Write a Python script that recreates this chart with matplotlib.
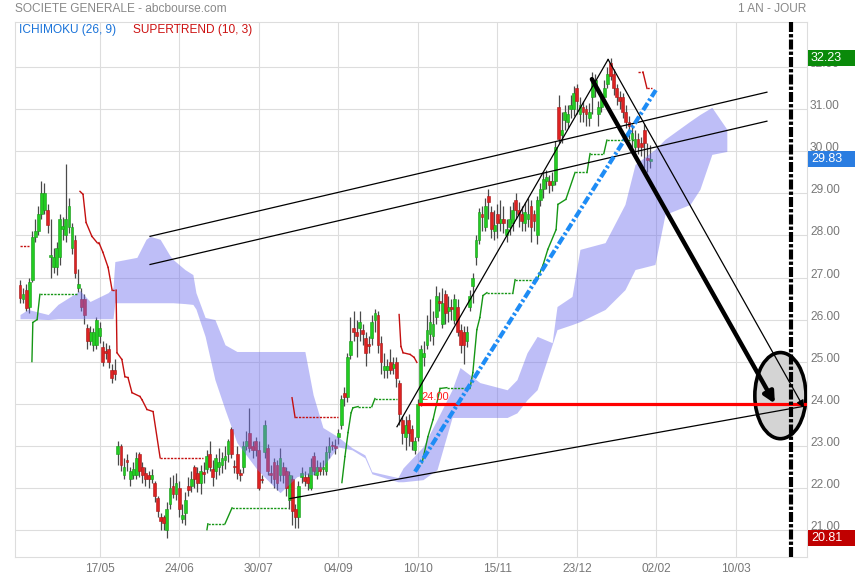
import matplotlib
matplotlib.use("Agg")
import matplotlib.pyplot as plt
from matplotlib.patches import Ellipse, Rectangle
import matplotlib.transforms as mtransforms
import numpy as np

plt.rcParams['font.family'] = ['Liberation Sans', 'DejaVu Sans']

# ---------------- data ----------------
title_left = "SOCIETE GENERALE - abcbourse.com"
title_right = "1 AN - JOUR"
legend_ichimoku = "ICHIMOKU (26, 9)"
legend_supertrend = "SUPERTREND (10, 3)"

tick_pos = [26, 52, 78, 104, 130, 156, 182, 208, 234]
tick_labels = ["17/05", "24/06", "30/07", "04/09", "10/10", "15/11", "23/12", "02/02", "10/03"]
price_ticks = [21, 22, 23, 24, 25, 26, 27, 28, 29, 30, 31, 32]

opens = [26.82, 26.50, 26.70, 26.30, 26.94, 27.97, 28.10, 28.50, 28.60, 28.60,
         27.50, 27.25, 27.25, 27.50, 28.15, 28.00, 28.20, 27.70, 27.90, 26.75,
         26.50, 26.50, 25.80, 25.50, 25.40, 25.40, 25.60, 25.35, 25.25, 25.30,
         24.80, 24.80, 22.80, 23.00, 22.30, 22.65, 22.20, 22.30, 22.30, 22.80,
         22.50, 22.35, 22.30, 22.20, 22.10, 21.75, 21.30, 21.30, 21.00, 21.60,
         22.05, 21.85, 22.00, 21.25, 21.40, 22.05, 22.05, 22.50, 22.35, 22.10,
         22.35, 22.45, 22.80, 22.45, 22.40, 22.50, 22.55, 22.65, 22.80, 23.40,
         22.50, 22.80, 22.35, 22.50, 23.00, 23.30, 23.00, 23.10, 22.90, 22.20,
         22.85, 22.95, 22.35, 22.60, 22.55, 22.30, 22.50, 22.40, 21.70, 22.20,
         21.50, 21.30, 22.25, 22.25, 22.25, 22.00, 22.75, 22.30, 22.50, 22.45,
         22.40, 22.85, 23.00, 23.00, 23.20, 23.50, 24.25, 24.15, 25.15, 25.80,
         25.70, 25.80, 25.75, 25.55, 25.40, 25.55, 26.00, 26.10, 25.45, 24.80,
         24.80, 25.00, 24.85, 25.00, 24.50, 23.60, 23.20, 23.60, 23.40, 22.90,
         23.20, 24.00, 25.10, 25.40, 25.65, 25.60, 26.05, 26.45, 25.90, 26.60,
         26.20, 26.30, 26.00, 26.30, 25.75, 25.70, 25.50, 26.30, 26.80, 27.50,
         27.90, 28.50, 28.20, 28.95, 28.55, 28.10, 28.50, 28.30, 28.40, 28.00,
         28.20, 28.30, 28.85, 28.60, 28.50, 28.30, 28.40, 28.70, 28.50, 28.00,
         28.85, 29.10, 29.30, 29.30, 29.20, 29.30, 31.05, 30.40, 30.75, 30.70,
         31.00, 31.00, 31.50, 30.90, 31.05, 31.00, 30.80, 31.30, 31.50, 30.90,
         31.05, 31.30, 31.60, 32.10, 31.85, 31.50, 31.30, 31.30, 30.95, 30.70,
         30.30, 30.10, 30.30, 30.20, 30.50, 29.85, 29.78]
closes = [26.51, 26.60, 26.27, 26.90, 27.97, 28.10, 28.50, 29.00, 29.00, 28.25,
          27.52, 27.50, 27.70, 28.40, 28.22, 28.40, 28.70, 28.20, 27.10, 26.85,
          26.30, 26.10, 25.50, 25.70, 25.70, 26.00, 25.80, 25.00, 25.20, 25.00,
          24.60, 24.70, 23.00, 22.55, 22.50, 22.60, 22.40, 22.45, 22.70, 22.40,
          22.30, 22.20, 22.20, 22.30, 21.80, 21.45, 21.20, 21.15, 21.50, 22.00,
          21.85, 22.10, 21.50, 21.35, 21.70, 21.95, 22.20, 22.20, 22.10, 22.40,
          22.33, 22.75, 22.50, 22.25, 22.70, 22.60, 22.70, 22.75, 23.10, 22.80,
          22.48, 22.35, 22.30, 23.00, 23.10, 22.95, 22.90, 22.90, 22.00, 22.18,
          23.50, 22.40, 22.30, 22.20, 22.10, 22.70, 22.30, 22.00, 22.30, 21.45,
          21.30, 22.05, 22.35, 22.15, 22.10, 22.50, 22.40, 22.50, 22.40, 22.50,
          22.85, 23.00, 22.98, 22.95, 23.30, 24.10, 24.15, 25.10, 25.50, 25.70,
          25.60, 25.95, 25.65, 25.20, 25.38, 25.95, 26.15, 25.40, 25.00, 24.90,
          24.90, 24.80, 24.95, 24.60, 23.75, 23.30, 23.50, 23.30, 23.10, 23.10,
          24.00, 25.30, 25.20, 25.75, 25.95, 25.90, 26.55, 26.40, 26.40, 26.15,
          26.30, 26.25, 26.50, 25.70, 25.40, 25.40, 25.70, 26.55, 27.00, 27.90,
          28.55, 28.45, 28.70, 28.80, 28.15, 28.25, 28.30, 28.40, 28.30, 28.15,
          28.40, 28.60, 28.60, 28.50, 28.35, 28.55, 28.50, 28.20, 28.35, 28.85,
          29.10, 29.35, 29.40, 29.20, 29.30, 30.10, 30.30, 30.50, 30.95, 30.90,
          31.10, 31.40, 31.20, 31.10, 30.95, 30.90, 30.95, 31.65, 31.70, 31.05,
          31.30, 31.50, 31.85, 31.80, 31.50, 31.30, 31.20, 30.95, 30.70, 30.60,
          30.45, 30.30, 30.10, 30.10, 30.20, 29.80, 29.83]
highs = [26.95, 26.75, 26.85, 27.00, 28.10, 28.40, 28.70, 29.30, 29.25, 28.75,
         28.40, 27.70, 27.85, 28.50, 28.45, 29.70, 28.90, 28.30, 28.00, 27.20,
         26.75, 26.60, 25.90, 25.85, 25.80, 26.05, 25.95, 25.50, 25.45, 25.40,
         24.95, 25.05, 23.10, 23.05, 22.70, 22.80, 22.50, 22.60, 22.85, 22.85,
         22.60, 22.50, 22.40, 22.45, 22.15, 21.80, 21.40, 21.35, 21.65, 22.25,
         22.30, 22.35, 22.15, 21.60, 21.90, 22.25, 22.40, 22.55, 22.50, 22.55,
         22.60, 22.90, 23.10, 22.65, 22.80, 22.95, 22.85, 23.00, 23.15, 23.45,
         22.65, 23.00, 22.45, 23.10, 23.35, 23.90, 23.10, 23.20, 23.10, 22.30,
         23.60, 23.05, 22.55, 22.70, 22.65, 22.95, 22.60, 22.50, 22.40, 22.30,
         21.60, 22.15, 22.50, 22.40, 22.35, 22.70, 22.85, 22.65, 22.60, 22.65,
         23.00, 23.20, 23.10, 23.15, 23.40, 24.20, 24.40, 25.20, 26.05, 26.20,
         26.00, 26.20, 25.90, 25.70, 25.60, 26.10, 26.25, 26.20, 25.60, 25.20,
         25.05, 25.30, 25.10, 25.10, 24.55, 23.70, 23.70, 23.75, 23.50, 23.20,
         24.10, 25.40, 25.50, 26.10, 26.50, 26.20, 26.80, 26.65, 26.75, 26.70,
         26.55, 26.50, 26.60, 26.50, 25.90, 25.85, 25.85, 26.70, 27.10, 28.00,
         28.65, 28.70, 28.90, 29.10, 28.70, 28.60, 28.75, 28.85, 28.70, 28.40,
         28.70, 28.80, 29.00, 28.80, 28.70, 28.80, 28.90, 28.85, 28.60, 28.95,
         29.25, 29.50, 29.55, 29.45, 29.50, 30.25, 31.35, 30.95, 31.10, 31.10,
         31.35, 31.55, 31.60, 31.30, 31.20, 31.10, 31.15, 31.90, 31.85, 31.20,
         31.40, 31.70, 32.00, 32.23, 31.95, 31.60, 31.45, 31.40, 31.10, 30.85,
         30.65, 30.50, 30.45, 30.35, 30.65, 30.20, 30.15]
lows = [26.40, 26.40, 26.20, 26.15, 26.90, 27.85, 28.00, 28.40, 28.50, 28.05,
        27.00, 27.10, 27.05, 27.30, 27.90, 27.85, 28.05, 27.55, 27.00, 26.65,
        26.20, 25.90, 25.30, 25.40, 25.25, 25.30, 25.45, 24.90, 25.05, 24.85,
        24.50, 24.55, 22.55, 22.40, 22.20, 22.40, 22.05, 22.20, 22.20, 22.25,
        22.10, 22.05, 22.00, 22.10, 21.65, 21.30, 21.00, 21.00, 20.81, 21.50,
        21.75, 21.70, 21.30, 21.15, 21.10, 21.80, 21.90, 22.00, 21.90, 21.85,
        22.10, 22.35, 22.40, 22.05, 22.20, 22.30, 22.35, 22.45, 22.60, 22.70,
        22.35, 22.20, 22.15, 22.35, 22.90, 22.85, 22.70, 22.75, 21.95, 22.10,
        22.70, 22.30, 22.10, 22.00, 21.95, 22.15, 22.10, 21.80, 21.50, 21.10,
        21.05, 21.05, 22.10, 22.05, 21.95, 21.95, 22.30, 22.20, 22.30, 22.30,
        22.30, 22.70, 22.90, 22.80, 23.05, 23.40, 23.95, 24.05, 25.05, 25.50,
        25.10, 25.50, 25.40, 24.90, 25.20, 25.40, 25.70, 25.20, 24.70, 24.60,
        24.60, 24.70, 24.70, 24.40, 23.50, 23.05, 22.90, 23.00, 22.90, 22.80,
        23.10, 23.95, 24.90, 25.30, 25.50, 25.40, 25.90, 26.20, 25.80, 25.90,
        25.95, 26.00, 25.90, 25.60, 25.20, 24.95, 25.35, 26.20, 26.40, 27.30,
        27.80, 28.10, 28.10, 28.40, 27.95, 27.90, 27.95, 28.10, 28.05, 27.85,
        28.00, 28.10, 28.40, 28.20, 28.10, 28.10, 28.20, 27.85, 28.10, 27.80,
        28.70, 28.90, 29.10, 29.00, 29.05, 29.20, 30.20, 30.20, 30.50, 30.55,
        30.80, 30.85, 30.90, 30.70, 30.70, 30.60, 30.60, 30.90, 31.30, 30.60,
        30.95, 31.20, 31.50, 31.70, 31.35, 31.10, 31.00, 30.80, 30.55, 30.30,
        30.10, 29.90, 29.95, 29.90, 29.60, 29.50, 29.60]

# Ichimoku cloud envelope (day index, upper edge, lower edge)
cloud_idx = [0, 2.6, 9.2, 12.4, 19.6, 22.9, 28.8, 30.4, 31.0, 38.2, 41.2, 42.5, 45.8, 49.0,
             50.0, 53.9, 56.5, 57.5, 60.5, 63.7, 67.0, 70.9, 77.5, 85.0, 90.5, 93.1, 95.8,
             99.0, 103.9, 108.5, 112.7, 115.0, 123.5, 125.2, 131.7, 136.3, 141.2, 143.8,
             150.3, 159.2, 162.4, 165.7, 169.0, 173.9, 175.5, 180.4, 183.0, 191.2, 197.7,
             201.0, 207.5, 210.8, 219.0, 222.2, 226.1, 231.0]
cloud_top = [26.12, 26.24, 26.12, 26.36, 26.69, 26.43, 26.64, 26.76, 27.38, 27.48, 27.91, 27.98,
             27.91, 27.52, 27.43, 27.19, 27.07, 26.64, 26.05, 26.00, 25.40, 25.24, 25.24, 25.24,
             25.24, 25.24, 24.21, 23.43, 23.21, 22.95, 22.78, 22.38, 22.24, 22.47, 22.97, 23.62,
             24.33, 24.86, 24.50, 24.33, 24.57, 25.21, 25.60, 25.45, 26.31, 26.55, 27.67, 27.83,
             28.74, 29.69, 30.05, 30.29, 30.72, 30.88, 31.05, 30.53]
cloud_bot = [26.02, 26.02, 26.00, 26.02, 26.02, 26.02, 26.02, 26.02, 26.40, 26.40, 26.40, 26.40,
             26.40, 26.40, 26.40, 26.38, 26.36, 26.25, 25.60, 24.57, 23.86, 23.07, 22.43, 21.88,
             22.26, 22.31, 22.31, 22.50, 22.97, 22.90, 22.71, 22.33, 22.14, 22.14, 22.19, 22.43,
             23.67, 23.67, 23.67, 23.67, 23.78, 24.09, 24.33, 25.40, 25.76, 25.88, 25.95, 26.24,
             26.71, 27.19, 27.31, 28.50, 28.74, 29.10, 29.93, 30.00]

# Supertrend (10, 3) vertices: (colour, day index list, price list)
supertrend = [
    ("red", [0, 3], [27.74, 27.74]),
    ("green", [3.9, 4.2, 5.6, 6.5, 19.0], [25.0, 25.93, 26.0, 26.6, 26.6]),
    ("red", [19.6, 20.6, 21.6, 23.5, 25.2, 25.8, 27.1, 28.8, 30.1, 31.4, 31.7, 33.3, 34.3, 35.3,
             36.6, 39.2, 39.9, 41.5, 43.5, 45.8, 59.8],
     [29.05, 28.98, 28.31, 27.98, 27.83, 27.83, 27.6, 27.24, 26.7, 26.7, 25.21, 25.05, 24.64,
      24.62, 24.26, 24.17, 24.09, 23.86, 23.81, 22.71, 22.71]),
    ("green", [61.1, 61.4, 67.0, 69.3, 87.6], [21.0, 21.14, 21.14, 21.52, 21.52]),
    ("red", [88.9, 89.9, 103.9], [24.14, 23.67, 23.67]),
    ("green", [105.2, 106.2, 107.2, 108.2, 108.8, 110.5, 115.0, 116.0, 123.2],
     [22.12, 22.74, 23.31, 23.78, 23.9, 23.93, 23.93, 24.12, 24.12]),
    ("red", [123.9, 124.5, 125.2, 127.5, 128.8, 129.7], [26.12, 25.36, 25.21, 25.17, 25.1, 24.98]),
    ("green", [131.4, 133.3, 135.0, 137.3, 139.5, 147.1, 148.0, 149.3, 150.3, 151.3, 152.6, 161.1,
               161.8, 169.0, 170.9, 172.5, 175.2, 175.8, 178.4, 181.4, 185.3, 186.3, 190.8, 191.8,
               201.0],
     [22.59, 23.21, 23.62, 24.36, 24.38, 24.38, 24.74, 25.76, 26.05, 26.57, 26.64, 26.64, 26.95,
      26.95, 27.29, 27.67, 28.14, 28.74, 28.86, 29.5, 29.5, 29.95, 29.95, 30.27, 30.27]),
    ("red", [202.0, 203.6, 204.9, 206.5], [31.89, 31.89, 31.5, 31.5]),
]

# hand-drawn analysis objects (day index, price)
channel_up1 = ([42.5, 244.1], [27.98, 31.41])
channel_up2 = ([42.5, 244.1], [27.31, 30.72])
channel_low = ([88.2, 257.2], [21.74, 23.95])
rise_line = ([123.2, 192.2], [23.45, 32.19])
thin_arrow = ([192.2, 256.2], [32.19, 23.90])
thick_arrow = ([186.9, 246.7], [31.72, 24.00])
blue_line = ([129.1, 207.8], [22.38, 31.46])
target_level = 24.00
target_start = 130.0
ellipse_center = (248.5, 24.19)
ellipse_size = (16.7, 2.05)
vline_pos = 252.0

last_price = 29.83
period_high = 32.23
period_low = 20.81

# ---------------- figure ----------------
W, H = 855, 580
fig = plt.figure(figsize=(W / 100, H / 100), dpi=100)
ax = fig.add_axes([15 / W, 23 / H, 792 / W, 535 / H])
ax.set_xlim(-1.63, 257.2)
ax.set_ylim(20.35, 33.08)

grid_c = '#dddddd'
for s in ax.spines.values():
    s.set_color(grid_c)
    s.set_linewidth(0.8)
for p in price_ticks:
    ax.axhline(p, color=grid_c, lw=0.8, zorder=0)
for t in tick_pos:
    ax.axvline(t, color=grid_c, lw=0.8, zorder=0)

ax.set_xticks(tick_pos)
ax.set_xticklabels(tick_labels)
ax.set_yticks([])
ax.tick_params(axis='x', length=0, colors='#777777', labelsize=8.6, pad=4)

# price labels on the right, sitting just above their grid line
trans = mtransforms.blended_transform_factory(ax.transAxes, ax.transData)
lab_trans = mtransforms.offset_copy(trans, fig=fig, x=3, y=3, units='dots')
for p in price_ticks:
    ax.text(1.0, p, f"{p:.2f}", transform=lab_trans, color='#777777', fontsize=8.6,
            ha='left', va='center', clip_on=False, zorder=10)

# candles
n = len(closes)
idx = np.arange(n)
o = np.array(opens); c = np.array(closes); h = np.array(highs); l = np.array(lows)
up = c >= o
ax.vlines(idx, l, h, color='#4a4a4a', lw=0.9, zorder=2)
body_lo = np.minimum(o, c)
body_h = np.maximum(np.abs(c - o), 0.035)
ax.bar(idx[up], body_h[up], bottom=body_lo[up], width=0.92, color='#22cc22',
       edgecolor='#179a17', lw=0.4, zorder=3)
ax.bar(idx[~up], body_h[~up], bottom=body_lo[~up], width=0.92, color='#dd2222',
       edgecolor='#a81818', lw=0.4, zorder=3)

# ichimoku cloud
ax.fill_between(cloud_idx, cloud_bot, cloud_top, color='#7070ee', alpha=0.45, lw=0, zorder=4)

# supertrend
st_cols = {"red": "#c41010", "green": "#159615"}
for col, xs, ys in supertrend:
    for k in range(len(xs) - 1):
        flat = ys[k] == ys[k + 1]
        ax.plot(xs[k:k + 2], ys[k:k + 2], color=st_cols[col], lw=1.0,
                linestyle=(0, (1.6, 0.9)) if flat else '-', zorder=5)

# ellipse target
ax.add_patch(Ellipse(ellipse_center, ellipse_size[0], ellipse_size[1], facecolor='#d4d4d4',
                     edgecolor='black', lw=2.6, zorder=6))

# channel lines
for xs, ys in (channel_up1, channel_up2, channel_low, rise_line):
    ax.plot(xs, ys, color='black', lw=0.9, zorder=7)

# red target level
ax.plot([target_start, 257.2], [target_level, target_level], color='#ff0000', lw=2.3, zorder=7,
        solid_capstyle='butt')
ax.text(target_start + 1.2, target_level + 0.05, f"{target_level:.2f}", color='#ff2020',
        fontsize=8, ha='left', va='bottom', zorder=8)

# blue dash-dot
ax.plot(blue_line[0], blue_line[1], color='#1e8cf5', lw=3.0,
        linestyle=(0, (2.0, 0.6, 0.6, 0.6)), zorder=7)

# arrows
ax.annotate('', xy=(thin_arrow[0][1], thin_arrow[1][1]), xytext=(thin_arrow[0][0], thin_arrow[1][0]),
            arrowprops=dict(arrowstyle='-|>', color='black', lw=0.9, mutation_scale=11,
                            shrinkA=0, shrinkB=0), zorder=8)
ax.annotate('', xy=(thick_arrow[0][1], thick_arrow[1][1]), xytext=(thick_arrow[0][0], thick_arrow[1][0]),
            arrowprops=dict(arrowstyle='-|>', color='black', lw=3.2, mutation_scale=16,
                            shrinkA=0, shrinkB=0), zorder=8)

# vertical dash-dot marker
ax.axvline(vline_pos, color='black', lw=3.0, linestyle=(0, (2.4, 0.5, 0.8, 0.5)), zorder=9)

# legend / header texts
ax.text(0.005, 1 - 7.5 / 535, legend_ichimoku, transform=ax.transAxes, color='#1a73d9',
        fontsize=8.6, ha='left', va='center', zorder=10)
ax.text(0.149, 1 - 7.5 / 535, legend_supertrend, transform=ax.transAxes, color='#cc1111',
        fontsize=8.6, ha='left', va='center', zorder=10)
fig.text(15 / W, 1 - 9 / H, title_left, color='#888888', fontsize=8.6, ha='left', va='center')
fig.text(806 / W, 1 - 9 / H, title_right, color='#888888', fontsize=8.6, ha='right', va='center')

# price boxes on the right
box_h = 16 / 41.97
for val, col, tc in ((period_high, '#0a8a0a', 'white'), (last_price, '#2a7de1', 'white'),
                     (period_low, '#c00000', 'white')):
    ax.add_patch(Rectangle((1.0015, val - box_h / 2), 0.061, box_h, transform=trans,
                           facecolor=col, edgecolor='none', clip_on=False, zorder=11))
    ax.text(1.005, val, f"{val:.2f}", transform=trans, color=tc, fontsize=9, ha='left',
            va='center', clip_on=False, zorder=12)

fig.savefig('out.png', dpi=100, facecolor='white')
